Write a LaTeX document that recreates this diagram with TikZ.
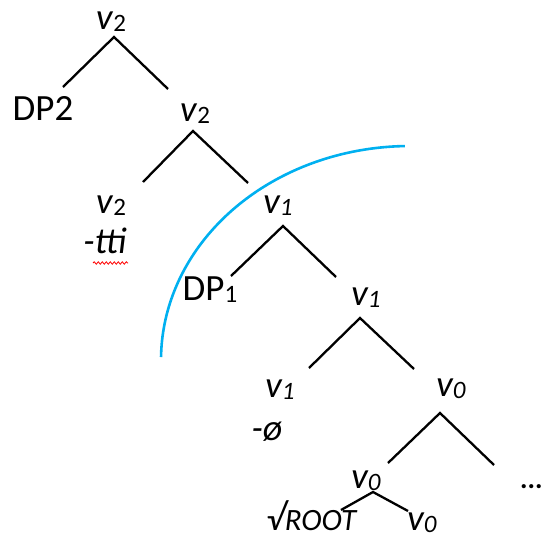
\documentclass[tikz,border=0pt]{standalone}
\usepackage{fontspec}
\setmainfont{Carlito}
\usetikzlibrary{decorations.pathmorphing}
\newcommand\mysub[1]{\raisebox{-0.06em}{\fontsize{25}{25}\selectfont #1}}
\tikzset{
  lab/.style={anchor=base, inner sep=0pt, font=\fontsize{37}{42}\selectfont},
  branch/.style={line width=2.3pt, black},
  arcline/.style={line width=2.6pt, color=skyblue},
}
\definecolor{skyblue}{RGB}{0,176,240}
\begin{document}
\begin{tikzpicture}[x=1pt,y=-1pt]
\useasboundingbox (0,0) rectangle (543,538);
% labels
\node[lab] (v2a) at (111,29) {\textit{v}\mysub{2}};
\node[lab] (dp2) at (43,120) {DP2};
\node[lab] (v2b) at (195,121) {\textit{v}\mysub{2}};
\node[lab] (v2c) at (111,213) {\textit{v}\mysub{2}};
\node[lab] (tti) at (105,253) {\textit{-tti}};
\node[lab] (v1a) at (278,213) {\textit{v\mysub{1}}};
\node[lab] (dp1) at (210,300) {DP\mysub{1}};
\node[lab] (v1b) at (366,305) {\textit{v\mysub{1}}};
\node[lab] (v1c) at (280,397) {\textit{v\mysub{1}}};
\node[lab] (null) at (267,440) {\textit{-ø}};
\node[lab] (v0a) at (451,396) {\textit{v\mysub{0}}};
\node[lab] (v0b) at (366,488) {\textit{v\mysub{0}}};
\node[lab] (root) at (312,530) {\textit{√\fontsize{31}{34}\selectfont ROOT}};
\node[lab] (v0c) at (422,530) {\textit{v\mysub{0}}};
\node[lab, anchor=base west, font=\fontsize{28}{30}\selectfont\bfseries] (dots) at (520,488) {...};
% spellcheck squiggle
\draw[red, line width=0.8pt, decorate, decoration={snake, amplitude=1.2pt, segment length=4pt}] (93,263) -- (128,263);
% branch points
\coordinate (p1) at (114,37);  \coordinate (p1l) at (63,87);   \coordinate (p1r) at (168,89);
\coordinate (p2) at (193,131); \coordinate (p2l) at (143,182); \coordinate (p2r) at (248,183);
\coordinate (p3) at (283,226); \coordinate (p3l) at (231,276); \coordinate (p3r) at (336,277);
\coordinate (p4) at (360,318); \coordinate (p4l) at (309,368); \coordinate (p4r) at (414,369);
\coordinate (p5) at (440,413); \coordinate (p5l) at (388,463); \coordinate (p5r) at (494,465);
\coordinate (p6) at (373,492); \coordinate (p6l) at (341,510); \coordinate (p6r) at (408,511);
\draw[branch] (p1l) -- (p1) -- (p1r);
\draw[branch] (p2l) -- (p2) -- (p2r);
\draw[branch] (p3l) -- (p3) -- (p3r);
\draw[branch] (p4l) -- (p4) -- (p4r);
\draw[branch] (p5l) -- (p5) -- (p5r);
\draw[branch] (p6l) -- (p6) -- (p6r);
% blue arc
\draw[arcline, domain=91.2:179.2, samples=80, smooth] plot ({410+249*cos(\x)}, {360-214*sin(\x)});
\end{tikzpicture}
\end{document}
